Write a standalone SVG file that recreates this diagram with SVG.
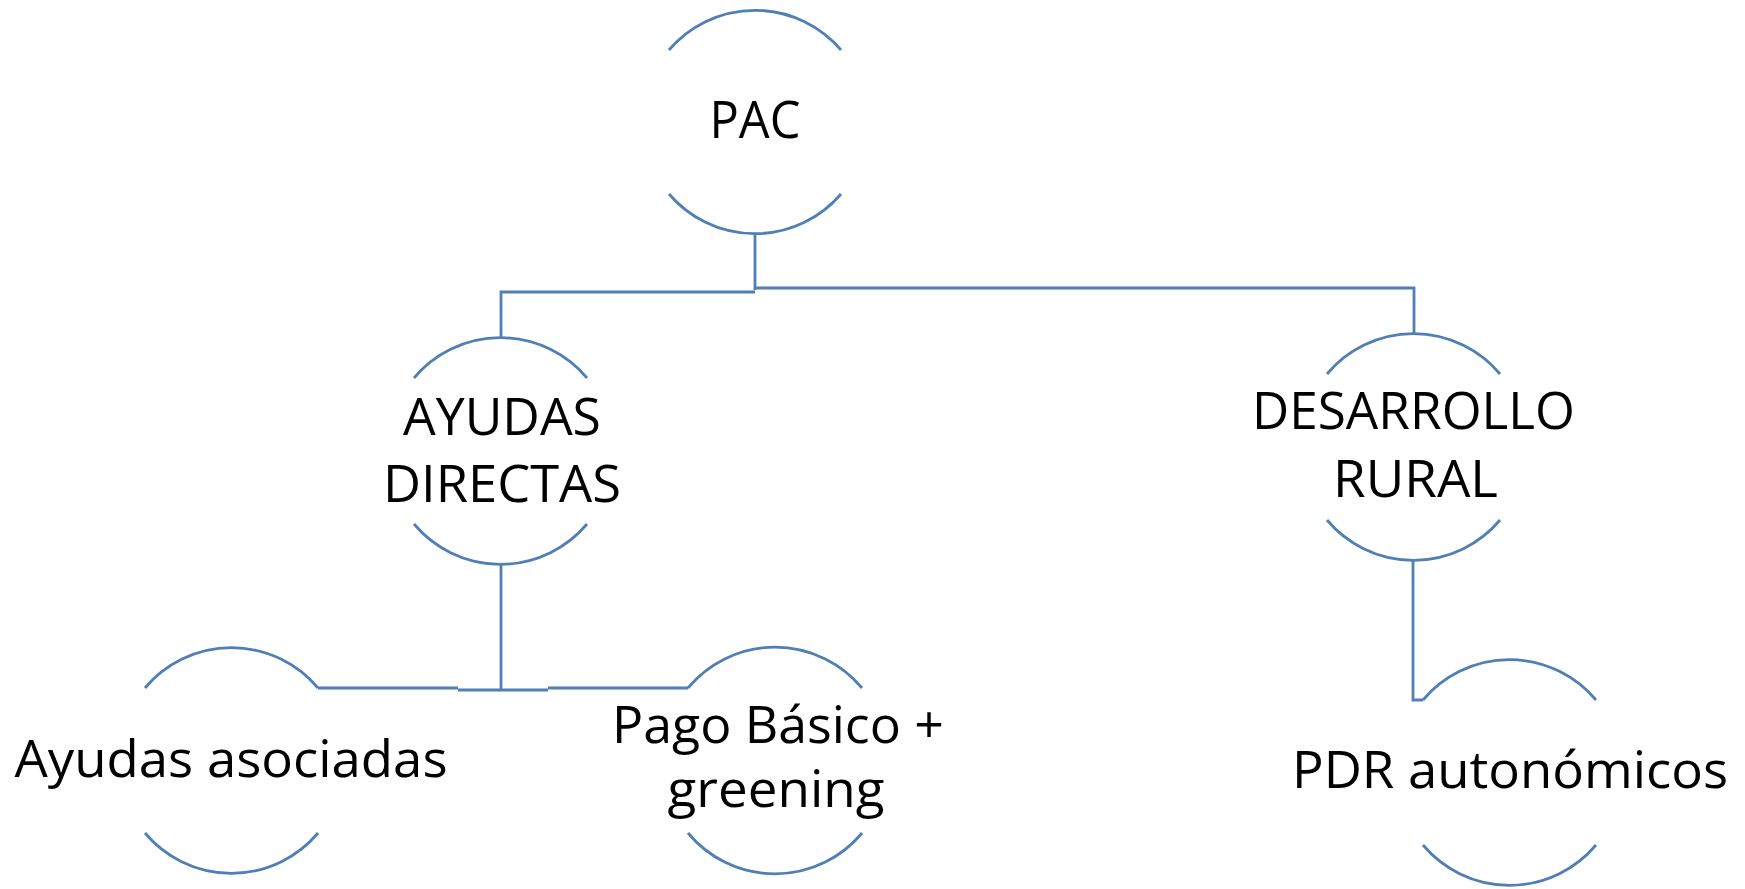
<svg xmlns="http://www.w3.org/2000/svg" width="1745" height="889" viewBox="0 0 1745 889">
<style>
.arc{fill:none;stroke:#4f7fb5;stroke-width:2.8}
.con{fill:none;stroke:#4f7fb5;stroke-width:2.8}
.lbl{font-family:"Open Sans",Lato,"Liberation Sans",sans-serif;font-size:52px;fill:#000;text-anchor:middle}
</style>
<rect width="1745" height="889" fill="#fff"/>
<g id="connectors">
<path class="con" d="M755,233 V290"/>
<path class="con" d="M755,292 H501 V338"/>
<path class="con" d="M755,288 H1414 V333"/>
<path class="con" d="M501,563 V690"/>
<path class="con" d="M318,688 H458 M458,690 H548 M548,688 H688"/>
<path class="con" d="M1413,560 V700 H1423"/>
</g>
<g id="node-pac">
<path class="arc" d="M669,50 A113,113 0 0 1 841,50"/>
<path class="arc" d="M669,194 A113,113 0 0 0 841,194"/>
<text class="lbl" x="755" y="138" textLength="91" lengthAdjust="spacingAndGlyphs">PAC</text>
</g>
<g id="node-ayudas-directas">
<path class="arc" d="M414,378 A113,113 0 0 1 587,378"/>
<path class="arc" d="M414,524 A113,113 0 0 0 587,524"/>
<text class="lbl" x="502" y="435" textLength="198" lengthAdjust="spacingAndGlyphs">AYUDAS</text>
<text class="lbl" x="502" y="502" textLength="238" lengthAdjust="spacingAndGlyphs">DIRECTAS</text>
</g>
<g id="node-desarrollo-rural">
<path class="arc" d="M1327,374 A113,113 0 0 1 1500,374"/>
<path class="arc" d="M1327,520 A113,113 0 0 0 1500,520"/>
<text class="lbl" x="1413.5" y="429" textLength="323" lengthAdjust="spacingAndGlyphs">DESARROLLO</text>
<text class="lbl" x="1415.5" y="497" textLength="165" lengthAdjust="spacingAndGlyphs">RURAL</text>
</g>
<g id="node-ayudas-asociadas">
<path class="arc" d="M145,688 A113,113 0 0 1 318,688"/>
<path class="arc" d="M145,833 A113,113 0 0 0 318,833"/>
<text class="lbl" x="231" y="777" textLength="433" lengthAdjust="spacingAndGlyphs">Ayudas asociadas</text>
</g>
<g id="node-pago-basico">
<path class="arc" d="M688,688 A113,113 0 0 1 862,688"/>
<path class="arc" d="M688,833 A113,113 0 0 0 862,833"/>
<text class="lbl" x="778" y="743" textLength="332" lengthAdjust="spacingAndGlyphs">Pago Básico +</text>
<text class="lbl" x="776" y="807" textLength="217" lengthAdjust="spacingAndGlyphs">greening</text>
</g>
<g id="node-pdr">
<path class="arc" d="M1423,700 A113,113 0 0 1 1596,700"/>
<path class="arc" d="M1423,845 A113,113 0 0 0 1596,845"/>
<text class="lbl" x="1510" y="788" textLength="436" lengthAdjust="spacingAndGlyphs">PDR autonómicos</text>
</g>
</svg>
